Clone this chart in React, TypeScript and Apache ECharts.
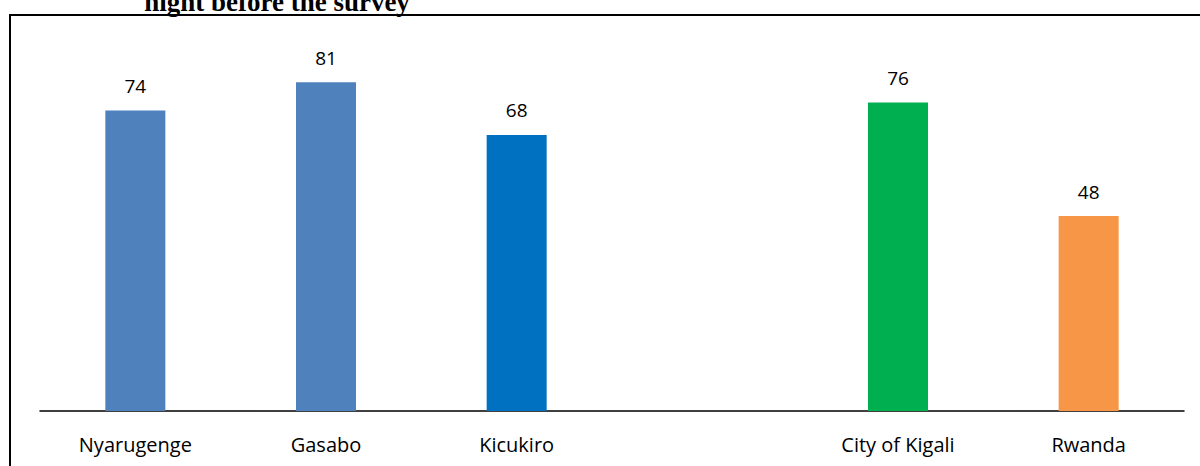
import React, { useEffect, useRef } from "react";
import * as echarts from "echarts";

const categories = ["Nyarugenge", "Gasabo", "Kicukiro", "", "City of Kigali", "Rwanda"];
const values: (number | null)[] = [74, 81, 68, null, 76, 48];
const colors = ["#4F81BD", "#4F81BD", "#0070C0", "#FFFFFF", "#00B050", "#F79646"];
const titleText = "night before the survey";

export default function App() {
  const ref = useRef<HTMLDivElement>(null);
  useEffect(() => {
    if (!ref.current) return;
    const chart = echarts.init(ref.current, undefined, { renderer: "svg" });
    chart.setOption({
      animation: false,
      backgroundColor: "#ffffff",
      graphic: [
        {
          type: "rect",
          shape: { x: 10, y: 15, width: 1200, height: 460 },
          style: { fill: "none", stroke: "#000", lineWidth: 2 },
          z: -1,
        },
        {
          type: "text",
          x: 277,
          y: 15,
          style: {
            text: titleText,
            font: "bold 27px 'Liberation Serif', serif",
            fill: "#000",
            textAlign: "center",
            textVerticalAlign: "bottom",
          },
        },
      ],
      grid: { left: 40, right: 16, top: 5, height: 406, containLabel: false },
      xAxis: {
        type: "category",
        data: categories,
        axisLine: { lineStyle: { color: "#000", width: 1.5 } },
        axisTick: { show: false },
        axisLabel: {
          color: "#000",
          fontFamily: "'Open Sans', sans-serif",
          fontSize: 20,
          margin: 23,
        },
      },
      yAxis: {
        type: "value",
        min: 0,
        max: 100,
        show: false,
        splitLine: { show: false },
      },
      series: [
        {
          type: "bar",
          barWidth: 60,
          data: values.map((v, i) => ({ value: v, itemStyle: { color: colors[i] } })),
          label: {
            show: true,
            position: "top",
            distance: 15,
            color: "#000",
            fontFamily: "'Open Sans', sans-serif",
            fontSize: 19,
          },
        },
      ],
    });
    return () => chart.dispose();
  }, []);
  return (
    <div
      ref={ref}
      style={{ position: "fixed", left: 0, top: 0, width: 1200, height: 466 }}
    />
  );
}
